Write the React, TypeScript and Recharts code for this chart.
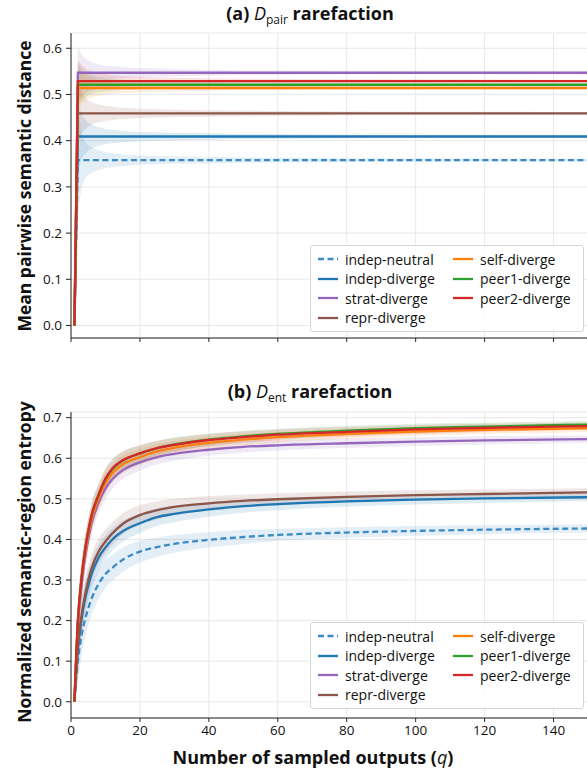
import React from 'react';
import { ComposedChart, Line, Area, XAxis, YAxis, CartesianGrid } from 'recharts';

// series meta
const seriesKeys = ['indepNeutral', 'indepDiverge', 'stratDiverge', 'reprDiverge', 'selfDiverge', 'peer1Diverge', 'peer2Diverge'];
const seriesNames = ['indep-neutral', 'indep-diverge', 'strat-diverge', 'repr-diverge', 'self-diverge', 'peer1-diverge', 'peer2-diverge'];
const seriesColors = ['#3a8ac4', '#1f77b4', '#9467bd', '#8c564b', '#ff7f0e', '#2ca02c', '#d62728'];

const xTicks = [0, 20, 40, 60, 80, 100, 120, 140];
const pairTicks = [0, 0.1, 0.2, 0.3, 0.4, 0.5, 0.6];
const entTicks = [0, 0.1, 0.2, 0.3, 0.4, 0.5, 0.6, 0.7];

// (a) D_pair rarefaction
const qPair = [1, 2, 3, 4, 5, 7, 10, 15, 20, 30, 50, 80, 150];
const pairIndepNeutral = [0, 0.358, 0.358, 0.358, 0.358, 0.358, 0.358, 0.358, 0.358, 0.358, 0.358, 0.358, 0.358];
const pairIndepDiverge = [0, 0.409, 0.409, 0.409, 0.409, 0.409, 0.409, 0.409, 0.409, 0.409, 0.409, 0.409, 0.409];
const pairStratDiverge = [0, 0.547, 0.547, 0.547, 0.547, 0.547, 0.547, 0.547, 0.547, 0.547, 0.547, 0.547, 0.547];
const pairReprDiverge = [0, 0.459, 0.459, 0.459, 0.459, 0.459, 0.459, 0.459, 0.459, 0.459, 0.459, 0.459, 0.459];
const pairSelfDiverge = [0, 0.514, 0.514, 0.514, 0.514, 0.514, 0.514, 0.514, 0.514, 0.514, 0.514, 0.514, 0.514];
const pairPeer1Diverge = [0, 0.521, 0.521, 0.521, 0.521, 0.521, 0.521, 0.521, 0.521, 0.521, 0.521, 0.521, 0.521];
const pairPeer2Diverge = [0, 0.529, 0.529, 0.529, 0.529, 0.529, 0.529, 0.529, 0.529, 0.529, 0.529, 0.529, 0.529];
// half-width of the shaded band
const pairBandIndepNeutral = [0, 0.12, 0.06, 0.04, 0.032, 0.024, 0.017, 0.012, 0.01, 0.008, 0.006, 0.004, 0.003];
const pairBandIndepDiverge = [0, 0.08, 0.05, 0.038, 0.03, 0.022, 0.016, 0.012, 0.01, 0.008, 0.006, 0.004, 0.003];
const pairBandStratDiverge = [0, 0.055, 0.04, 0.032, 0.026, 0.02, 0.015, 0.012, 0.01, 0.008, 0.005, 0.004, 0.003];
const pairBandReprDiverge = [0, 0.06, 0.045, 0.035, 0.028, 0.021, 0.016, 0.012, 0.01, 0.008, 0.006, 0.004, 0.003];
const pairBandSelfDiverge = [0, 0.045, 0.035, 0.028, 0.023, 0.018, 0.014, 0.011, 0.009, 0.007, 0.005, 0.004, 0.003];
const pairBandPeer1Diverge = [0, 0.045, 0.035, 0.028, 0.023, 0.018, 0.014, 0.011, 0.009, 0.007, 0.005, 0.004, 0.003];
const pairBandPeer2Diverge = [0, 0.045, 0.035, 0.028, 0.023, 0.018, 0.014, 0.011, 0.009, 0.007, 0.005, 0.004, 0.003];

// (b) D_ent rarefaction
const qEnt = [1, 2, 3, 4, 5, 6, 8, 10, 12, 15, 20, 25, 30, 40, 50, 60, 80, 100, 120, 150];
const entIndepNeutral = [0, 0.1, 0.16, 0.2, 0.23, 0.255, 0.29, 0.315, 0.33, 0.35, 0.37, 0.381, 0.389, 0.399, 0.406, 0.411, 0.417, 0.421, 0.424, 0.427];
const entIndepDiverge = [0, 0.13, 0.2, 0.25, 0.285, 0.315, 0.355, 0.38, 0.4, 0.42, 0.44, 0.455, 0.463, 0.474, 0.482, 0.487, 0.494, 0.498, 0.501, 0.504];
const entStratDiverge = [0, 0.19, 0.28, 0.35, 0.4, 0.44, 0.49, 0.525, 0.548, 0.57, 0.59, 0.603, 0.611, 0.621, 0.628, 0.632, 0.637, 0.641, 0.644, 0.647];
const entReprDiverge = [0, 0.14, 0.21, 0.26, 0.3, 0.33, 0.37, 0.395, 0.415, 0.438, 0.46, 0.472, 0.48, 0.489, 0.495, 0.499, 0.505, 0.509, 0.512, 0.516];
const entSelfDiverge = [0, 0.195, 0.295, 0.36, 0.41, 0.45, 0.5, 0.538, 0.563, 0.585, 0.603, 0.617, 0.626, 0.638, 0.646, 0.652, 0.66, 0.666, 0.67, 0.674];
const entPeer1Diverge = [0, 0.2, 0.3, 0.37, 0.42, 0.46, 0.51, 0.548, 0.573, 0.594, 0.612, 0.625, 0.634, 0.646, 0.654, 0.66, 0.668, 0.674, 0.678, 0.683];
const entPeer2Diverge = [0, 0.2, 0.3, 0.37, 0.42, 0.46, 0.51, 0.55, 0.575, 0.595, 0.612, 0.625, 0.633, 0.645, 0.652, 0.658, 0.665, 0.671, 0.675, 0.679];
const entBandIndepNeutral = [0, 0.05, 0.05, 0.045, 0.042, 0.04, 0.037, 0.034, 0.032, 0.03, 0.027, 0.024, 0.022, 0.019, 0.017, 0.015, 0.013, 0.012, 0.011, 0.01];
const entBandIndepDiverge = [0, 0.05, 0.045, 0.04, 0.037, 0.035, 0.032, 0.03, 0.028, 0.026, 0.024, 0.022, 0.02, 0.018, 0.016, 0.015, 0.013, 0.012, 0.011, 0.01];
const entBandStratDiverge = [0, 0.04, 0.04, 0.035, 0.032, 0.03, 0.027, 0.025, 0.023, 0.022, 0.02, 0.018, 0.017, 0.015, 0.014, 0.013, 0.012, 0.011, 0.01, 0.009];
const entBandReprDiverge = [0, 0.05, 0.045, 0.04, 0.037, 0.035, 0.032, 0.03, 0.028, 0.026, 0.024, 0.022, 0.02, 0.018, 0.016, 0.015, 0.013, 0.012, 0.011, 0.01];
const entBandSelfDiverge = [0, 0.04, 0.04, 0.035, 0.032, 0.03, 0.027, 0.025, 0.023, 0.022, 0.02, 0.018, 0.017, 0.015, 0.014, 0.013, 0.012, 0.011, 0.01, 0.009];
const entBandPeer1Diverge = [0, 0.04, 0.04, 0.035, 0.032, 0.03, 0.027, 0.025, 0.023, 0.022, 0.02, 0.018, 0.017, 0.015, 0.014, 0.013, 0.012, 0.011, 0.01, 0.009];
const entBandPeer2Diverge = [0, 0.04, 0.04, 0.035, 0.032, 0.03, 0.027, 0.025, 0.023, 0.022, 0.02, 0.018, 0.017, 0.015, 0.014, 0.013, 0.012, 0.011, 0.01, 0.009];

const pairValues = [pairIndepNeutral, pairIndepDiverge, pairStratDiverge, pairReprDiverge, pairSelfDiverge, pairPeer1Diverge, pairPeer2Diverge];
const pairBands = [pairBandIndepNeutral, pairBandIndepDiverge, pairBandStratDiverge, pairBandReprDiverge, pairBandSelfDiverge, pairBandPeer1Diverge, pairBandPeer2Diverge];
const entValues = [entIndepNeutral, entIndepDiverge, entStratDiverge, entReprDiverge, entSelfDiverge, entPeer1Diverge, entPeer2Diverge];
const entBands = [entBandIndepNeutral, entBandIndepDiverge, entBandStratDiverge, entBandReprDiverge, entBandSelfDiverge, entBandPeer1Diverge, entBandPeer2Diverge];

const buildRows = (qs: number[], values: number[][], bands: number[][]) =>
  qs.map((q, i) => {
    const row: any = { q };
    seriesKeys.forEach((k, s) => {
      row[k] = values[s][i];
      row[k + 'Band'] = [values[s][i] - bands[s][i], values[s][i] + bands[s][i]];
    });
    return row;
  });

const pairData = buildRows(qPair, pairValues, pairBands);
const entData = buildRows(qEnt, entValues, entBands);

const FONT = '"Open Sans", sans-serif';
const AXIS = '#222';

const LegendBox = ({ left, top }: { left: number; top: number }) => {
  const col1 = [0, 1, 2, 3];
  const col2 = [4, 5, 6];
  const item = (s: number, row: number, x: number) => (
    <div key={s} style={{ position: 'absolute', left: x, top: 3 + row * 19.6, height: 20, display: 'flex', alignItems: 'center', whiteSpace: 'nowrap' }}>
      <svg width={20} height={6} style={{ marginRight: 7 }}>
        <line x1={0} y1={3} x2={20} y2={3} stroke={seriesColors[s]} strokeWidth={2.3} strokeDasharray={s === 0 ? '6 3.5' : undefined} />
      </svg>
      <span style={{ fontSize: 14, color: '#111' }}>{seriesNames[s]}</span>
    </div>
  );
  return (
    <div style={{ position: 'absolute', left, top, width: 272, height: 85, border: '1px solid #d6d6d6', borderRadius: 3, background: 'rgba(255,255,255,0.85)', fontFamily: FONT }}>
      {col1.map((s, r) => item(s, r, 7))}
      {col2.map((s, r) => item(s, r, 142))}
    </div>
  );
};

const Panel = ({ data, domain, ticks, curve, showXLabels, height, marginTop, xAxisHeight }: any) => (
  <ComposedChart width={590} height={height} data={data} margin={{ top: marginTop, right: 2, bottom: 0, left: 0 }}>
    <CartesianGrid stroke="#e8e8e8" strokeWidth={1} />
    <XAxis
      dataKey="q"
      type="number"
      domain={[0, 150]}
      ticks={xTicks}
      allowDataOverflow
      height={xAxisHeight}
      stroke={AXIS}
      tickSize={4}
      tickMargin={3}
      tick={{ fontSize: 13.5, fill: '#111', fontFamily: FONT }}
      tickFormatter={(v: number) => (showXLabels ? String(v) : '')}
    />
    <YAxis
      type="number"
      domain={domain}
      ticks={ticks}
      allowDataOverflow
      width={71}
      stroke={AXIS}
      tickSize={5}
      tickMargin={4}
      tick={{ fontSize: 13.5, fill: '#111', fontFamily: FONT }}
      tickFormatter={(v: number) => v.toFixed(1)}
    />
    {seriesKeys.map((k, s) => (
      <Area
        key={k + 'Band'}
        dataKey={k + 'Band'}
        type={curve}
        stroke="none"
        fill={seriesColors[s]}
        fillOpacity={0.14}
        isAnimationActive={false}
        dot={false}
        activeDot={false}
      />
    ))}
    {seriesKeys.map((k, s) => (
      <Line
        key={k}
        dataKey={k}
        type={curve}
        stroke={seriesColors[s]}
        strokeWidth={2.3}
        strokeDasharray={s === 0 ? '6 3.5' : undefined}
        dot={false}
        activeDot={false}
        isAnimationActive={false}
      />
    ))}
  </ComposedChart>
);

const Title = ({ label, sub, top }: { label: string; sub: string; top: number }) => (
  <div style={{ position: 'absolute', left: 310, top, transform: 'translateX(-50%)', whiteSpace: 'nowrap', fontFamily: FONT, fontSize: 18, fontWeight: 700, color: '#111' }}>
    {label} <span style={{ fontStyle: 'italic', fontWeight: 400 }}>D</span>
    <sub style={{ fontSize: 12, fontWeight: 400, verticalAlign: -4 }}>{sub}</sub> rarefaction
  </div>
);

const YLabel = ({ text, cy }: { text: string; cy: number }) => (
  <div style={{ position: 'absolute', left: 24, top: cy, transform: 'translate(-50%, -50%) rotate(-90deg)', whiteSpace: 'nowrap', fontFamily: FONT, fontSize: 17.5, fontWeight: 700, color: '#111' }}>
    {text}
  </div>
);

export default function App() {
  return (
    <div style={{ position: 'absolute', left: 0, top: 0, width: 587, height: 771, overflow: 'hidden', background: '#fff', fontFamily: FONT }}>
      <div style={{ position: 'absolute', left: 0, top: 0 }}>
        <Panel data={pairData} domain={[-0.027, 0.633]} ticks={pairTicks} curve="linear" showXLabels={false} height={360} marginTop={33} xAxisHeight={22} />
      </div>
      <div style={{ position: 'absolute', left: 0, top: 360 }}>
        <Panel data={entData} domain={[-0.04, 0.714]} ticks={entTicks} curve="monotone" showXLabels height={411} marginTop={52} xAxisHeight={53} />
      </div>
      <Title label="(a)" sub="pair" top={1} />
      <Title label="(b)" sub="ent" top={379} />
      <YLabel text="Mean pairwise semantic distance" cy={186} />
      <YLabel text="Normalized semantic-region entropy" cy={562} />
      <LegendBox left={310} top={245} />
      <LegendBox left={310} top={622} />
      <div style={{ position: 'absolute', left: 313, top: 745, transform: 'translateX(-50%)', whiteSpace: 'nowrap', fontSize: 18, fontWeight: 700, color: '#111' }}>
        Number of sampled outputs (<span style={{ fontStyle: 'italic', fontWeight: 400 }}>q</span>)
      </div>
    </div>
  );
}
